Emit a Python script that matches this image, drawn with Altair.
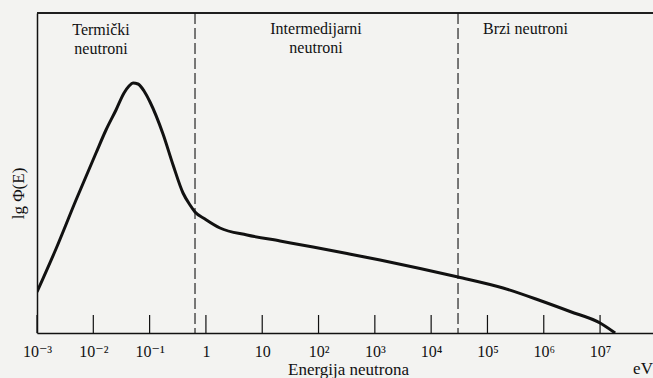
import altair as alt
import pandas as pd

# Curve: neutron energy (eV) and relative lg Φ(E) (arbitrary units)
energy_ev = [0.001, 0.00217, 0.00493, 0.01117, 0.0168, 0.0253, 0.0351, 0.0431, 0.0507,
             0.0622, 0.0796, 0.1017, 0.173, 0.261, 0.392, 0.522, 0.640, 0.964,
             1.78, 5.37, 20.7, 79.8, 321, 1236, 6353, 30060, 189200, 859000,
             2.93e6, 1.0e7, 1.85e7]
lg_phi = [41, 84, 133, 180, 203, 223, 240, 247, 250,
          249, 242, 231, 199, 168, 140, 128, 121, 114,
          105, 98, 92, 86, 79.5, 73, 64.5, 56, 45, 32.5,
          21.5, 10, 0]

# Region boundaries (eV)
boundaries = [0.64, 3.0e4]

# Axis ticks
tick_values = [1e-3, 1e-2, 1e-1, 1, 10, 1e2, 1e3, 1e4, 1e5, 1e6, 1e7]
tick_labels = ["10⁻³", "10⁻²", "10⁻¹", "1", "10", "10²", "10³", "10⁴", "10⁵", "10⁶", "10⁷"]

W, H = 616, 320
FONT = "Liberation Serif, Times New Roman, DejaVu Serif, serif"
INK = "#111111"

curve = pd.DataFrame({"E": energy_ev, "phi": lg_phi})
bounds = pd.DataFrame({"E": boundaries})
ticks = pd.DataFrame({"E": tick_values})

label_expr = "[" + ",".join("'%s'" % t for t in tick_labels) + "][round(log(datum.value)/LN10)+3]"

xscale = alt.Scale(type="log", domain=[1e-3, 10 ** 7.94], nice=False)
yscale = alt.Scale(domain=[0, 320], nice=False)

line = alt.Chart(curve).mark_line(
    color=INK, strokeWidth=3, interpolate="monotone", clip=True
).encode(
    x=alt.X("E:Q", scale=xscale, axis=alt.Axis(
        values=tick_values, labelExpr=label_expr, ticks=False, grid=False,
        domainColor=INK, domainWidth=1.5, labelFont=FONT, labelFontSize=16,
        labelColor=INK, labelPadding=10, labelFlush=False,
        title="Energija neutrona", titleFont=FONT, titleFontSize=17,
        titleFontWeight="normal", titleColor=INK, titleX=311, titleY=41,
        titleBaseline="alphabetic", titleAnchor="start", titleAlign="center")),
    y=alt.Y("phi:Q", scale=yscale, axis=alt.Axis(
        ticks=False, labels=False, grid=False, domainColor=INK, domainWidth=1.5,
        title="lg Φ(E)", titleFont=FONT, titleFontSize=17, titleFontWeight="normal",
        titleColor=INK, titleX=-19, titleY=180, titleAngle=270,
        titleAlign="center", titleBaseline="middle")),
)

dashes = alt.Chart(bounds).mark_rule(
    color=INK, strokeWidth=1.1, strokeDash=[11, 4]
).encode(x=alt.X("E:Q", scale=xscale))

tick_marks = alt.Chart(ticks).mark_rule(color=INK, strokeWidth=1.2).encode(
    x=alt.X("E:Q", scale=xscale),
    y=alt.value(H - 18), y2=alt.value(H),
)

top_border = alt.Chart(bounds).mark_rule(color=INK, strokeWidth=1.3).encode(
    x=alt.value(0), x2=alt.value(W), y=alt.value(0)
)

def label(text, x, y, align="center"):
    return alt.Chart(pd.DataFrame({"t": [text]})).mark_text(
        font=FONT, fontSize=16, color=INK, align=align, baseline="alphabetic",
        lineBreak="\n", lineHeight=19
    ).encode(text="t:N", x=alt.value(x), y=alt.value(y))

eV = alt.Chart(pd.DataFrame({"t": ["eV"]})).mark_text(
    font=FONT, fontSize=17, color=INK, align="center", baseline="alphabetic"
).encode(text="t:N", x=alt.value(606), y=alt.value(H + 41))

chart = alt.layer(
    dashes, tick_marks, top_border, line,
    label("Termički\nneutroni", 64, 22),
    label("Intermedijarni\nneutroni", 279, 21),
    label("Brzi neutroni", 446, 21, align="left"),
    eV,
).properties(
    width=W, height=H,
    autosize="none",
    padding={"left": 37, "top": 13, "right": 0, "bottom": 45},
    background="#f3f3f1",
).configure_view(stroke=None)

chart.save("out.html", embed_options={"renderer": "svg", "actions": False})
